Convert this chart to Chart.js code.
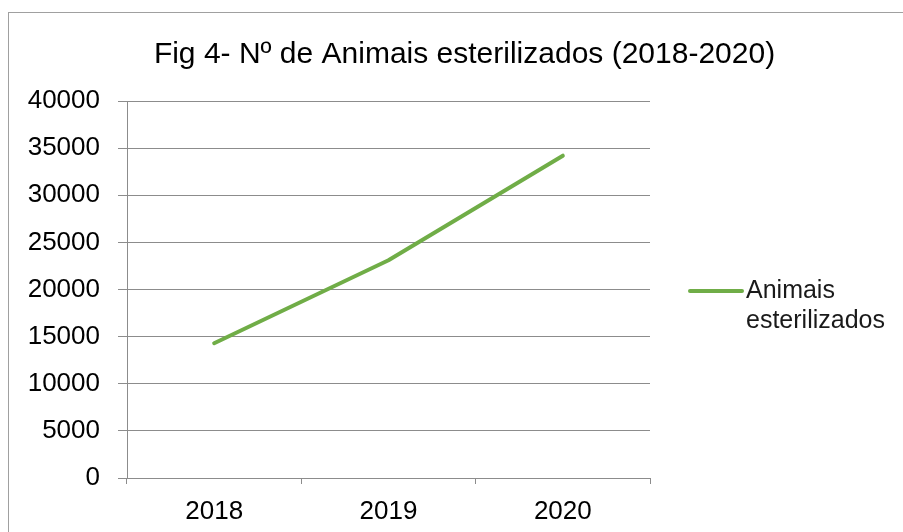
<!DOCTYPE html>
<html>
<head>
<meta charset="utf-8">
<script src="https://cdn.jsdelivr.net/npm/chart.js@4/dist/chart.umd.min.js"></script>
<style>
  html, body { margin: 0; padding: 0; background: #fff; }
  #wrap { width: 903px; height: 532px; }
</style>
</head>
<body>
<div id="wrap"><canvas id="AnimaisChartjs"></canvas></div>
<script>
const anos = ['2018', '2019', '2020'];
const esterilizados = [14300, 23100, 34200];
const serieLabel = 'Animais esterilizados';
const tituloTexto = 'Fig 4- Nº de Animais esterilizados (2018-2020)';

const verde = 'rgb(112, 173, 71)';
const cinza = '#8c8c8c';
const fonte = "'Liberation Sans', Arial, sans-serif";

// moldura do grafico (so a parte de cima e da esquerda aparece)
const molduraPlugin = {
    id: 'moldura',
    beforeDraw(chart) {
        const ctx = chart.ctx;
        ctx.save();
        ctx.strokeStyle = '#a0a0a0';
        ctx.lineWidth = 1;
        ctx.strokeRect(8.5, 12.5, 1200, 1200);
        ctx.restore();
    }
};

// legenda a direita com texto em duas linhas
const legendaPlugin = {
    id: 'legenda',
    afterDraw(chart) {
        const ctx = chart.ctx;
        const ds = chart.data.datasets[0];
        const x0 = chart.chartArea.right + 40;
        const y0 = 291;
        ctx.save();
        ctx.strokeStyle = ds.borderColor;
        ctx.lineWidth = 4;
        ctx.lineCap = 'round';
        ctx.beginPath();
        ctx.moveTo(x0, y0);
        ctx.lineTo(x0 + 52, y0);
        ctx.stroke();
        ctx.fillStyle = '#1a1a1a';
        ctx.font = "25px " + fonte;
        ctx.textBaseline = 'middle';
        ctx.textAlign = 'left';
        ds.label.split(' ').forEach(function (linha, i) {
            ctx.fillText(linha, x0 + 56, y0 + i * 30);
        });
        ctx.restore();
    }
};

const AnimaisChart = document.getElementById('AnimaisChartjs').getContext('2d');

new Chart(AnimaisChart, {
    type: 'line',
    data: {
        labels: anos,
        datasets: [{
            label: serieLabel,
            data: esterilizados,
            fill: false,
            borderColor: verde,
            borderWidth: 4,
            borderCapStyle: 'round',
            borderJoinStyle: 'round',
            pointRadius: 0,
            pointHoverRadius: 0,
            tension: 0
        }]
    },
    options: {
        responsive: true,
        maintainAspectRatio: false,
        animation: false,
        layout: {
            padding: { left: 26, right: 0, top: 0, bottom: 0 }
        },
        plugins: {
            legend: { display: false },
            tooltip: { enabled: false },
            title: {
                display: true,
                text: tituloTexto,
                color: '#000',
                font: { family: fonte, size: 30, weight: 'normal', lineHeight: 1.2 },
                padding: { top: 37, bottom: 28 }
            }
        },
        scales: {
            x: {
                type: 'category',
                offset: true,
                grid: {
                    offset: true,
                    drawOnChartArea: false,
                    drawTicks: true,
                    tickLength: 6,
                    color: cinza
                },
                border: { display: true, color: cinza, width: 1 },
                ticks: {
                    color: '#000',
                    font: { family: fonte, size: 26 },
                    padding: 12,
                    maxRotation: 0
                },
                afterFit(scale) { scale.height = 54; }
            },
            y: {
                min: 0,
                max: 40000,
                grid: {
                    color: cinza,
                    tickLength: 9,
                    drawTicks: true
                },
                border: { display: true, color: cinza, width: 1 },
                ticks: {
                    stepSize: 5000,
                    color: '#000',
                    font: { family: fonte, size: 26 },
                    padding: 18,
                    callback: function (v) { return String(v); }
                },
                afterFit(scale) { scale.width = 101; }
            },
            // eixo vazio so para reservar o espaco da legenda
            yLegenda: {
                type: 'linear',
                position: 'right',
                display: true,
                grid: { display: false },
                border: { display: false },
                ticks: { display: false },
                afterFit(scale) { scale.width = 253; }
            }
        }
    },
    plugins: [molduraPlugin, legendaPlugin]
});
</script>
</body>
</html>
